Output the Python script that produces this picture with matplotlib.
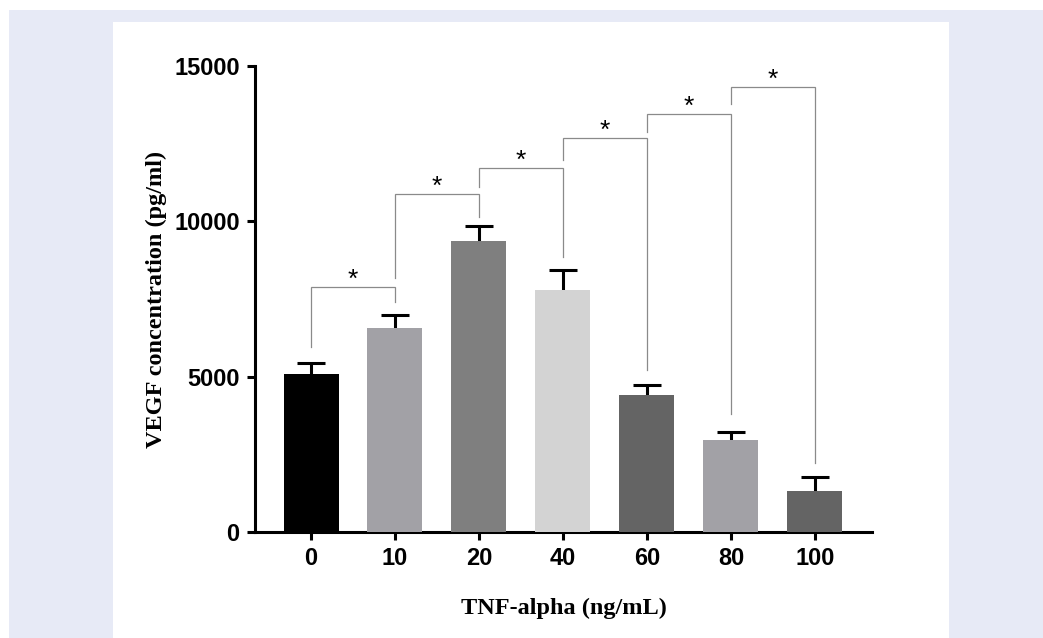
import matplotlib
import matplotlib.pyplot as plt
from matplotlib.patches import Rectangle

matplotlib.use("agg")

# data
doses = ["0", "10", "20", "40", "60", "80", "100"]
vegf_mean = [5090, 6570, 9370, 7790, 4410, 2960, 1320]
vegf_err = [350, 410, 480, 640, 320, 260, 450]
bar_colors = ["#000000", "#A2A1A6", "#7F7F7F", "#D3D3D3", "#646464", "#A2A1A6", "#646464"]

# significance brackets: (left bar, right bar, top, left leg end, right leg end)
brackets = [
    (0, 1, 7880, 5950, 7400),
    (1, 2, 10880, 8170, 10140),
    (2, 3, 11720, 11100, 8850),
    (3, 4, 12680, 11970, 5200),
    (4, 5, 13450, 12870, 3800),
    (5, 6, 14320, 13770, 2220),
]

fig = plt.figure(figsize=(10.43, 6.38), dpi=100)
fig.patch.set_facecolor("white")
W, H = 1043, 638
# lavender page background + white panel
fig.patches.append(Rectangle((9 / W, 0), 1 - 9 / W, 1 - 10 / H, transform=fig.transFigure,
                             facecolor="#E7EAF6", edgecolor="none", zorder=-2))
fig.patches.append(Rectangle((113 / W, 0), (949 - 113) / W, 1 - 22 / H, transform=fig.transFigure,
                             facecolor="white", edgecolor="none", zorder=-1))

ax = fig.add_axes([255 / W, 1 - 532 / H, (872 - 255) / W, (532 - 66) / H])
ax.set_facecolor("none")

x = list(range(len(doses)))
ax.bar(x, vegf_mean, width=0.655, color=bar_colors, zorder=3)
eb = ax.errorbar(x, vegf_mean, yerr=[[0] * len(x), vegf_err], fmt="none", ecolor="black",
                 elinewidth=2.2, capsize=10, capthick=2.2, zorder=2)
# only the upper cap is shown (one-sided SD bars)
eb[1][0].set_visible(False)

for i, j, top, yl, yr in brackets:
    ax.plot([i, i, j, j], [yl, top, top, yr], color="#8A8A8A", lw=0.9, zorder=1,
            solid_joinstyle="miter")
    ax.text((i + j) / 2, top - 150, "*", ha="center", va="bottom", fontsize=19,
            family="Liberation Sans", color="black")

ax.set_xlim(-0.667, 6.68)
ax.set_ylim(0, 15000)
ax.set_xticks(x)
ax.set_xticklabels(doses)
ax.set_yticks([0, 5000, 10000, 15000])

for s in ["top", "right"]:
    ax.spines[s].set_visible(False)
for s in ["left", "bottom"]:
    ax.spines[s].set_linewidth(2.2)
ax.tick_params(axis="both", width=2.2, length=6, labelsize=17, pad=5)
for lab in ax.get_xticklabels() + ax.get_yticklabels():
    lab.set_family("Liberation Sans")
    lab.set_fontweight("bold")

ax.set_xlabel("TNF-alpha (ng/mL)", family="Liberation Serif", fontweight="bold",
              fontsize=17.5, labelpad=20)
ax.set_ylabel("VEGF concentration (pg/ml)", family="Liberation Serif", fontweight="bold",
              fontsize=17.5, labelpad=5)

plt.savefig("out.png", dpi=100)
